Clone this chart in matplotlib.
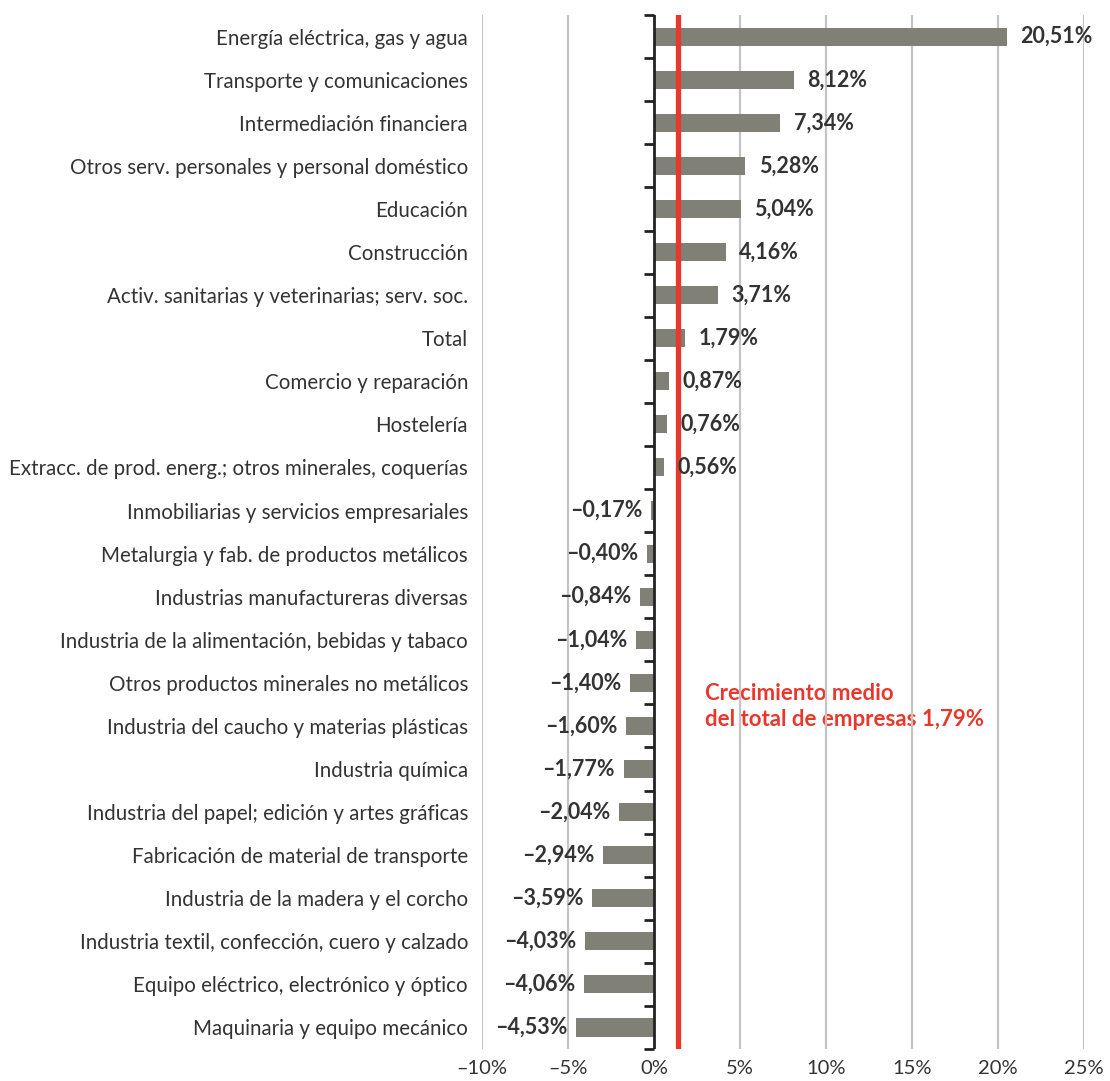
import matplotlib
matplotlib.use("Agg")
import matplotlib.pyplot as plt
import numpy as np

plt.rcParams['font.family'] = ['Lato', 'DejaVu Sans']

categories = [
    "Energía eléctrica, gas y agua",
    "Transporte y comunicaciones",
    "Intermediación financiera",
    "Otros serv. personales y personal doméstico",
    "Educación",
    "Construcción",
    "Activ. sanitarias y veterinarias; serv. soc.",
    "Total",
    "Comercio y reparación",
    "Hostelería",
    "Extracc. de prod. energ.; otros minerales, coquerías",
    "Inmobiliarias y servicios empresariales",
    "Metalurgia y fab. de productos metálicos",
    "Industrias manufactureras diversas",
    "Industria de la alimentación, bebidas y tabaco",
    "Otros productos minerales no metálicos",
    "Industria del caucho y materias plásticas",
    "Industria química",
    "Industria del papel; edición y artes gráficas",
    "Fabricación de material de transporte",
    "Industria de la madera y el corcho",
    "Industria textil, confección, cuero y calzado",
    "Equipo eléctrico, electrónico y óptico",
    "Maquinaria y equipo mecánico",
]
values = [20.51, 8.12, 7.34, 5.28, 5.04, 4.16, 3.71, 1.79, 0.87, 0.76, 0.56,
          -0.17, -0.40, -0.84, -1.04, -1.40, -1.60, -1.77, -2.04, -2.94,
          -3.59, -4.03, -4.06, -4.53]
xticks = [-10, -5, 0, 5, 10, 15, 20, 25]
average_label = "Crecimiento medio\ndel total de empresas 1,79%"
average_line_pos = 1.4  # position of red line as drawn in the picture


def fmt(v):
    s = f"{abs(v):.2f}".replace(".", ",") + "%"
    return ("\u2013" + s) if v < 0 else s


fig = plt.figure(figsize=(11.10, 10.81), dpi=100)
ax = fig.add_axes([0.4342, 0.0296, 0.9766 - 0.4342, 0.986 - 0.0296])

n = len(categories)
y = np.arange(n)
bar_color = "#808077"
ax.barh(y, values, height=0.42, color=bar_color, zorder=2)

ax.set_xlim(-10, 25)
ax.set_ylim(n - 0.5, -0.5)

# grid
for t in xticks:
    if t != 0:
        ax.axvline(t, color="#c4c4c4", lw=1.6, zorder=1)

# zero axis with ticks at boundaries
ax.axvline(0, color="#222222", lw=2, zorder=3)
for b in np.arange(-0.5, n, 1.0):
    ax.plot([-0.6, 0], [b, b], color="#222222", lw=2, zorder=3,
            solid_capstyle="butt", clip_on=False)

# red average line
ax.axvline(average_line_pos, color="#e8382d", lw=3.8, zorder=4)

ax.text(2.95, 15.55, average_label, color="#e8382d", fontsize=16,
        fontweight="bold", va="center", ha="left", linespacing=1.25, zorder=0.5)

# value labels
for yi, v in zip(y, values):
    if v >= 0:
        ax.text(v + 0.8, yi, fmt(v), ha="left", va="center", fontsize=15.5,
                fontweight="bold", color="#333333", zorder=5)
    else:
        ax.text(v - 0.5, yi, fmt(v), ha="right", va="center", fontsize=15.5,
                fontweight="bold", color="#333333", zorder=5)

ax.set_yticks(y)
ax.set_yticklabels(categories, fontsize=14.8, color="#333333")
ax.tick_params(axis="y", length=0, pad=10)
ax.set_xticks(xticks)
ax.set_xticklabels([("\u2013" + f"{abs(t)}%") if t < 0 else f"{t}%" for t in xticks],
                   fontsize=14.5, color="#333333")
ax.tick_params(axis="x", length=0, pad=8)
for s in ax.spines.values():
    s.set_visible(False)

fig.savefig("out.png", dpi=100, facecolor="white")
